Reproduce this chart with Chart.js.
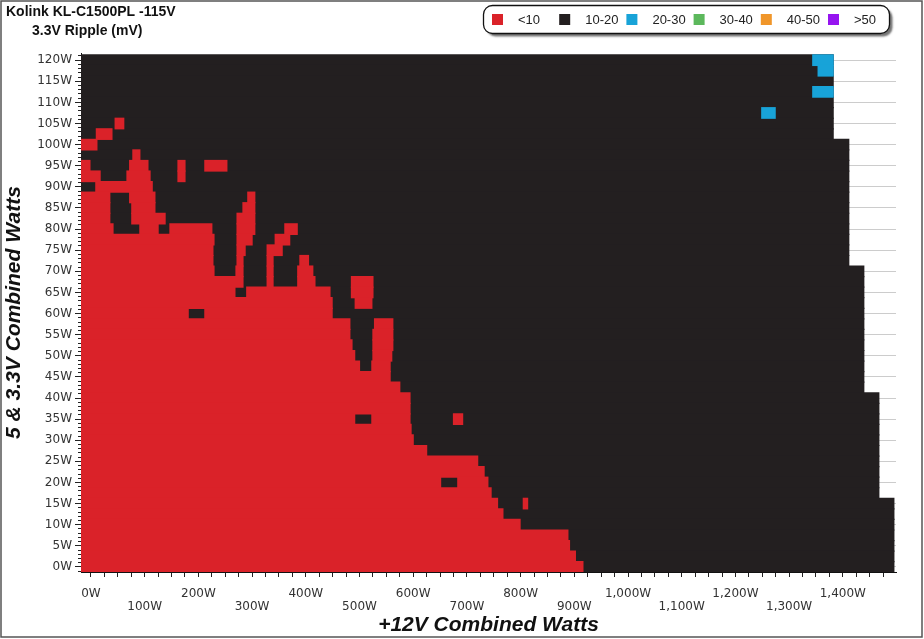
<!DOCTYPE html>
<html>
<head>
<meta charset="utf-8">
<title>Kolink KL-C1500PL - 3.3V Ripple</title>
<script src="https://cdn.jsdelivr.net/npm/chart.js@4.4.1/dist/chart.umd.min.js"></script>
<style>
  body { margin: 0; background: #fff; }
  canvas { display: block; }
</style>
</head>
<body>
<canvas id="ripple-chart" width="924" height="639"></canvas>
<script>
var chartTitle = 'Kolink KL-C1500PL -115V';
var chartSubtitle = '3.3V Ripple (mV)';

var legendLabels = ['<10', '10-20', '20-30', '30-40', '40-50', '>50'];
var legendColors = ['#da2229', '#231f20', '#18a3d8', '#5cb85c', '#f0962a', '#9614f0'];

// 5 & 3.3V combined load of each measured row (W)
var rowLoads = [120, 117.5, 115, 112.5, 110, 107.5, 105, 102.5, 100, 97.5, 95, 92.5,
  90, 87.5, 85, 82.5, 80, 77.5, 75, 72.5, 70, 67.5, 65, 62.5, 60, 57.5, 55, 52.5,
  50, 47.5, 45, 42.5, 40, 37.5, 35, 32.5, 30, 27.5, 25, 22.5, 20, 17.5, 15, 12.5,
  10, 7.5, 5, 2.5, 0];

// highest +12V load reached on each row (W), everything up to it is at least 10-20mV
var maxTested = [1382, 1382, 1382, 1382, 1382, 1382, 1382, 1382,
  1411, 1411, 1411, 1411, 1411, 1411, 1411, 1411, 1411, 1411, 1411, 1411,
  1439, 1439, 1439, 1439, 1439, 1439, 1439, 1439, 1439, 1439, 1439, 1439,
  1467, 1467, 1467, 1467, 1467, 1467, 1467, 1467, 1467, 1467,
  1495, 1495, 1495, 1495, 1495, 1495, 1495];

var gridStart = -18.6; // +12V edge of the first cell (W)

// [row load, +12V from, +12V to] of the runs below 10mV
var redRuns = [
  [105, 45, 61], [102.5, 10, 39], [100, gridStart, 11], [97.5, 78, 91],
  [95, gridStart, -2], [95, 72, 106], [95, 162, 175], [95, 212, 253],
  [92.5, gridStart, 17], [92.5, 67, 110], [92.5, 162, 175],
  [90, 9, 114],
  [87.5, gridStart, 35], [87.5, 72, 119], [87.5, 292, 305],
  [85, gridStart, 35], [85, 76, 119], [85, 283, 305],
  [82.5, gridStart, 35], [82.5, 76, 138], [82.5, 272, 305],
  [80, gridStart, 41], [80, 91, 125], [80, 147, 225], [80, 272, 305], [80, 361, 384],
  [77.5, gridStart, 229], [77.5, 272, 300], [77.5, 343, 370],
  [75, gridStart, 227], [75, 272, 287], [75, 328, 356],
  [72.5, gridStart, 227], [72.5, 272, 283], [72.5, 328, 339], [72.5, 389, 405],
  [70, gridStart, 229], [70, 270, 283], [70, 328, 339], [70, 385, 413],
  [67.5, gridStart, 283], [67.5, 328, 339], [67.5, 385, 417], [67.5, 485, 525],
  [65, gridStart, 268], [65, 290, 445], [65, 485, 525],
  [62.5, gridStart, 449], [62.5, 492, 523],
  [60, gridStart, 181], [60, 212, 449],
  [57.5, gridStart, 482], [57.5, 528, 562],
  [55, gridStart, 482], [55, 525, 562],
  [52.5, gridStart, 486], [52.5, 525, 562],
  [50, gridStart, 491], [50, 525, 560],
  [47.5, gridStart, 500], [47.5, 523, 557],
  [45, gridStart, 557], [42.5, gridStart, 575], [40, gridStart, 594], [37.5, gridStart, 594],
  [35, gridStart, 491], [35, 523, 594], [35, 675, 692],
  [32.5, gridStart, 596], [30, gridStart, 600], [27.5, gridStart, 625],
  [25, gridStart, 720], [22.5, gridStart, 732],
  [20, gridStart, 651], [20, 683, 739],
  [17.5, gridStart, 745],
  [15, gridStart, 757], [15, 805, 813],
  [12.5, gridStart, 767], [10, gridStart, 799], [7.5, gridStart, 888],
  [5, gridStart, 891], [2.5, gridStart, 902], [0, gridStart, 916]
];

// runs at 20-30mV
var blueRuns = [[120, 1344, 1382], [117.5, 1354, 1382], [112.5, 1344, 1382], [107.5, 1249, 1274]];

function toBars(runs) {
  return runs.map(function (r) { return { y: r[0], x: [r[1], r[2]] }; });
}

var testedBars = rowLoads.map(function (load, i) {
  return { y: load, x: [gridStart, maxTested[i]] };
});

function wattLabel(v) {
  return v.toLocaleString('en-US') + 'W';
}

var tickFont = { family: 'DejaVu Sans', size: 12, lineHeight: 1.1 };
var titleFont = { family: 'Liberation Sans', size: 21, style: 'italic', weight: 'bold' };

var headerPlugin = {
  id: 'header',
  beforeDraw: function (chart) {
    var ctx = chart.ctx;
    ctx.save();
    ctx.fillStyle = '#fff';
    ctx.fillRect(0, 0, chart.width, chart.height);
    ctx.restore();
  },
  afterDraw: function (chart) {
    var ctx = chart.ctx;
    ctx.save();
    ctx.fillStyle = '#111';
    ctx.textBaseline = 'alphabetic';
    ctx.font = 'bold 14px "Liberation Sans", Arial, sans-serif';
    ctx.fillText(chartTitle, 6, 16);
    ctx.fillText(chartSubtitle, 32, 35);

    // legend frame with its drop shadow
    ctx.save();
    ctx.shadowColor = 'rgba(0,0,0,0.55)';
    ctx.shadowOffsetX = 3;
    ctx.shadowOffsetY = 3;
    ctx.shadowBlur = 2;
    ctx.beginPath();
    ctx.roundRect(483.5, 5.5, 406, 28, 9);
    ctx.fillStyle = '#fff';
    ctx.fill();
    ctx.restore();
    ctx.beginPath();
    ctx.roundRect(483.5, 5.5, 406, 28, 9);
    ctx.lineWidth = 1.3;
    ctx.strokeStyle = '#111';
    ctx.stroke();

    ctx.font = '13px "Liberation Sans", Arial, sans-serif';
    ctx.textBaseline = 'middle';
    chart.data.datasets.forEach(function (ds, i) {
      var x = 492 + i * 67.2;
      ctx.fillStyle = ds.backgroundColor;
      ctx.fillRect(x, 14, 11, 11);
      ctx.fillStyle = '#222';
      ctx.fillText(ds.label, x + 26, 20);
    });

    ctx.lineWidth = 1.5;
    ctx.strokeStyle = '#555';
    ctx.strokeRect(1, 1, 921, 636);
    ctx.restore();
  }
};

var barStyle = {
  grouped: false,
  barPercentage: 1,
  categoryPercentage: 1,
  borderWidth: 0,
  inflateAmount: 0.6
};

function series(i, data, order) {
  return Object.assign({
    label: legendLabels[i],
    backgroundColor: legendColors[i],
    data: data,
    order: order
  }, barStyle);
}

var rippleChart = new Chart(document.getElementById('ripple-chart').getContext('2d'), {
  type: 'bar',
  data: {
    datasets: [
      series(0, toBars(redRuns), 2),
      series(1, testedBars, 3),
      series(2, toBars(blueRuns), 1),
      series(3, [], 4),
      series(4, [], 5),
      series(5, [], 6)
    ]
  },
  options: {
    indexAxis: 'y',
    responsive: false,
    animation: false,
    devicePixelRatio: 1,
    layout: { padding: { top: 53, right: 28, bottom: 0, left: 0 } },
    plugins: {
      legend: { display: false },
      tooltip: { enabled: false }
    },
    scales: {
      x: {
        type: 'linear',
        min: gridStart,
        max: 1499,
        afterFit: function (s) { s.height = 67; },
        ticks: {
          stepSize: 25,
          includeBounds: false,
          autoSkip: false,
          maxRotation: 0,
          minRotation: 0,
          padding: 10,
          color: '#333',
          font: tickFont,
          callback: function (v) {
            if (v % 100) return '';
            return v % 200 ? ['', wattLabel(v)] : wattLabel(v);
          }
        },
        grid: { drawOnChartArea: false, tickLength: 5, tickColor: '#222' },
        border: { color: '#111' },
        title: {
          display: true,
          text: '+12V Combined Watts',
          color: '#111',
          font: titleFont,
          padding: { top: 0, bottom: 1 }
        }
      },
      y: {
        type: 'linear',
        position: 'left',
        weight: 1,
        offset: false,
        min: -1.2,
        max: 121.7,
        afterFit: function (s) { s.width = 81; },
        ticks: {
          stepSize: 5,
          includeBounds: false,
          autoSkip: false,
          padding: 3,
          color: '#333',
          font: tickFont,
          callback: function (v) { return wattLabel(v); }
        },
        grid: { offset: false, color: '#cccccc', tickColor: '#222', tickLength: 6 },
        border: { color: '#111' },
        title: {
          display: true,
          text: '5 & 3.3V Combined Watts',
          color: '#111',
          font: titleFont,
          padding: { top: 2, bottom: 0 }
        }
      },
      yMinor: {
        type: 'linear',
        position: 'left',
        weight: 0,
        offset: false,
        min: -1.2,
        max: 121.7,
        afterFit: function (s) { s.width = 0; },
        ticks: { display: false, stepSize: 1, includeBounds: false, autoSkip: false },
        grid: { offset: false, drawOnChartArea: false, tickLength: 3, tickColor: '#222' },
        border: { display: false }
      }
    }
  },
  plugins: [headerPlugin]
});
</script>
</body>
</html>
